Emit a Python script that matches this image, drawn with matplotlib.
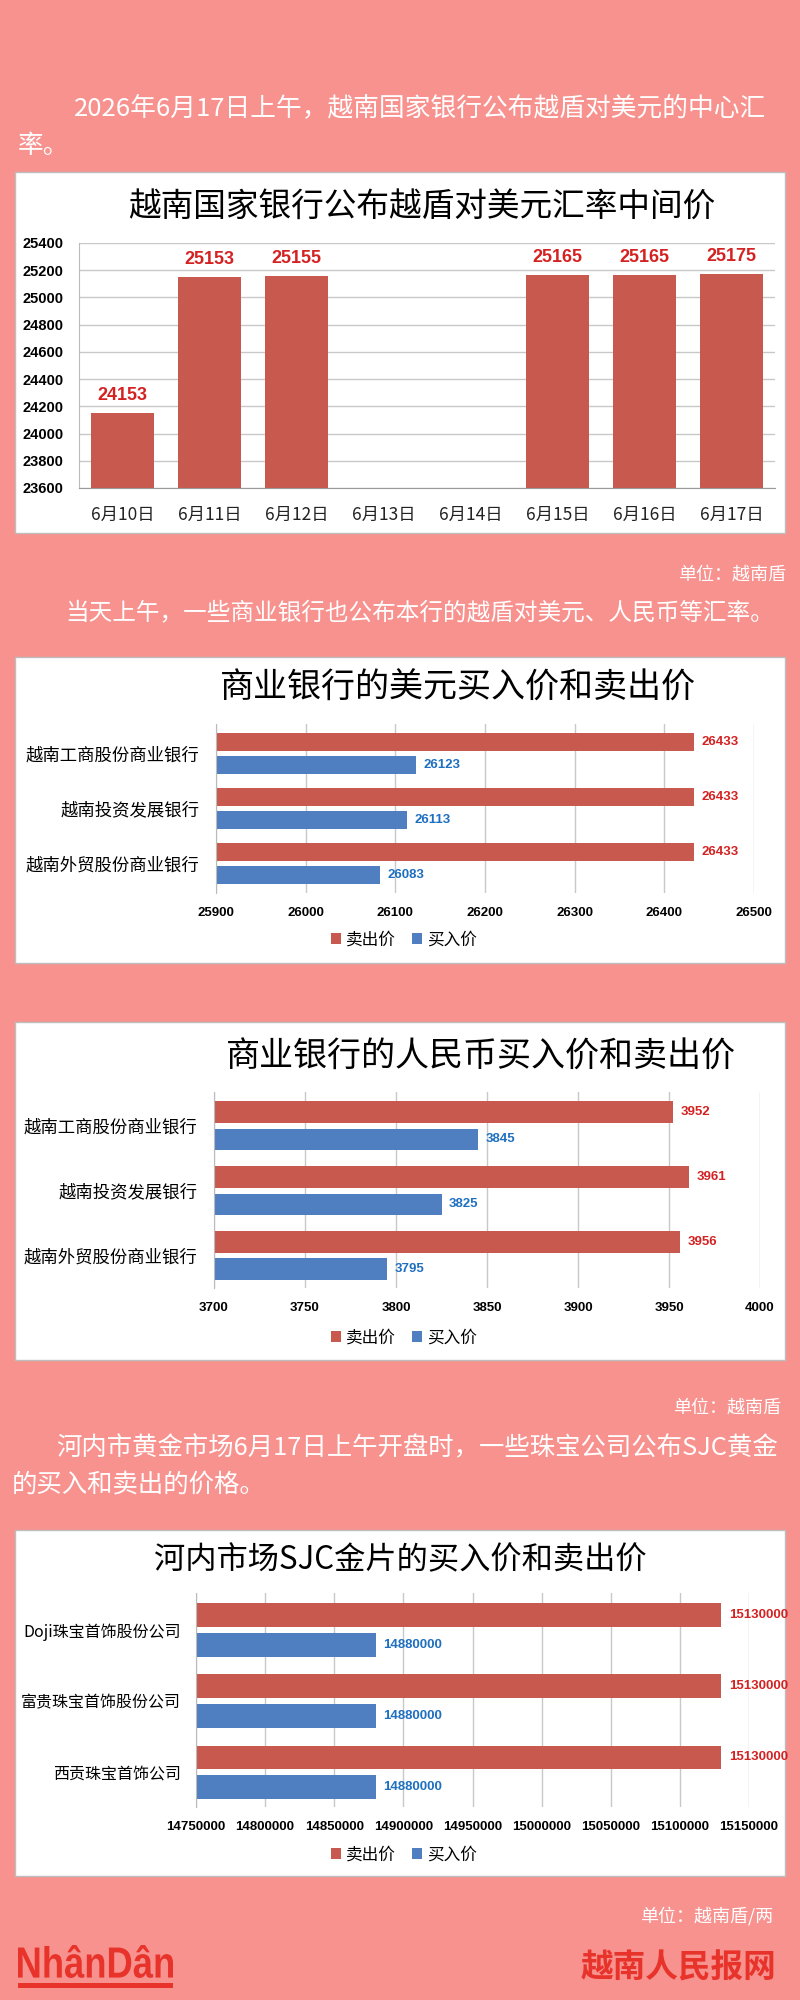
import matplotlib
matplotlib.use("Agg")
import matplotlib.pyplot as plt
from matplotlib.patches import Rectangle, PathPatch
from matplotlib.textpath import TextPath
from matplotlib.font_manager import FontProperties
from matplotlib.transforms import Affine2D

plt.rcParams['font.family'] = ['Noto Sans CJK SC', 'DejaVu Sans']

# ── data ─────────────────────────────────────────────────────────────
dates = ["6月10日", "6月11日", "6月12日", "6月13日", "6月14日", "6月15日", "6月16日", "6月17日"]
central_rate = [24153, 25153, 25155, None, None, 25165, 25165, 25175]

banks = ["越南工商股份商业银行", "越南投资发展银行", "越南外贸股份商业银行"]
usd_sell = [26433, 26433, 26433]
usd_buy = [26123, 26113, 26083]
cny_sell = [3952, 3961, 3956]
cny_buy = [3845, 3825, 3795]

gold_shops = ["Doji珠宝首饰股份公司", "富贵珠宝首饰股份公司", "西贡珠宝首饰公司"]
gold_sell = [15130000, 15130000, 15130000]
gold_buy = [14880000, 14880000, 14880000]

BG = "#F8928F"
RED = "#C8594F"
BLUE = "#4F7FC0"
RED_TXT = "#D42222"
BLUE_TXT = "#1F6FC0"
NUM_FONT = ['Liberation Sans', 'DejaVu Sans']

W, H = 800, 2000
fig = plt.figure(figsize=(8, 20), dpi=100, facecolor=BG)


def box(x0, y0, x1, y1):
    # pixel box (top-left origin) -> figure fraction
    return [x0 / W, 1 - y1 / H, (x1 - x0) / W, (y1 - y0) / H]


# background layer in pixel coordinates
bg = fig.add_axes([0, 0, 1, 1], zorder=-1)
bg.set_xlim(0, W)
bg.set_ylim(H, 0)
bg.axis("off")

for y0, y1 in [(172, 533), (657, 963), (1022, 1360), (1530, 1876)]:
    bg.add_patch(Rectangle((15, y0), 770, y1 - y0, facecolor="white",
                           edgecolor="#BDBDBD", lw=1))

# intro texts
bg.text(74, 108, "2026年6月17日上午，越南国家银行公布越盾对美元的中心汇",
        color="white", fontsize=18.5, va="center", ha="left")
bg.text(18, 146, "率。", color="white", fontsize=18.5, va="center")
bg.text(786, 575, "单位：越南盾", color="white", fontsize=13, ha="right", va="center")
bg.text(65, 613, "当天上午，一些商业银行也公布本行的越盾对美元、人民币等汇率。",
        color="white", fontsize=17, va="center")
bg.text(781, 1408, "单位：越南盾", color="white", fontsize=13, ha="right", va="center")
bg.text(56, 1448, "河内市黄金市场6月17日上午开盘时，一些珠宝公司公布SJC黄金",
        color="white", fontsize=18.3, va="center")
bg.text(12, 1485, "的买入和卖出的价格。", color="white", fontsize=18.3, va="center")
bg.text(773, 1916, "单位：越南盾/两", color="white", fontsize=13, ha="right", va="center")
bg.text(776, 1968, "越南人民报网", color="#E8332B", fontsize=23.5, fontweight="bold",
        ha="right", va="center")

# NhânDân logo (condensed via path scaling)
tp = TextPath((0, 0), "NhânDân", size=1,
              prop=FontProperties(family="Liberation Sans", weight="bold"))
ext = tp.get_extents()
sx = (173 - 18) / ext.width
sy = (1978 - 1945) / ext.height
tr = Affine2D().translate(-ext.x0, -ext.y0).scale(sx, -sy).translate(18, 1978)
bg.add_patch(PathPatch(tr.transform_path(tp), facecolor="#E8332B", edgecolor="none"))
bg.add_patch(Rectangle((18, 1983), 155, 4.5, facecolor="#E8332B", edgecolor="none"))

# chart titles
bg.text(422, 208, "越南国家银行公布越盾对美元汇率中间价", fontsize=23.5, ha="center", va="center")
bg.text(458, 688, "商业银行的美元买入价和卖出价", fontsize=24.5, ha="center", va="center")
bg.text(481, 1057, "商业银行的人民币买入价和卖出价", fontsize=24.5, ha="center", va="center")
bg.text(400, 1560, "河内市场SJC金片的买入价和卖出价", fontsize=22.5, ha="center", va="center")

# ── chart 1: central rate ────────────────────────────────────────────
ax = fig.add_axes(box(79, 243, 775, 488))
ax.set_facecolor("none")
xs = [i for i, v in enumerate(central_rate) if v is not None]
vals = [v for v in central_rate if v is not None]
ax.bar(xs, vals, width=0.72, color=RED, zorder=2)
for x, v in zip(xs, vals):
    ax.annotate(str(v), (x, v), xytext=(0, 12.5), textcoords="offset points",
                ha="center", va="center", color=RED_TXT, fontsize=13,
                fontweight="bold", family=NUM_FONT)
ax.set_ylim(23600, 25400)
ax.set_xlim(-0.5, len(dates) - 0.5)
ax.set_yticks(range(23600, 25401, 200))
ax.set_xticks(range(len(dates)))
ax.set_xticklabels(dates, fontsize=12.5, color="#222222")
ax.yaxis.grid(True, color="#C8C8C8", lw=1)
ax.set_axisbelow(True)
for s in ["top", "right"]:
    ax.spines[s].set_visible(False)
ax.spines["left"].set_color("#BBBBBB")
ax.spines["bottom"].set_color("#999999")
ax.tick_params(length=0)
ax.tick_params(axis="y", pad=11)
ax.tick_params(axis="x", pad=13)
for lab in ax.get_yticklabels():
    lab.set_fontweight("bold")
    lab.set_family(NUM_FONT)
    lab.set_fontsize(10.5)


# ── horizontal charts ────────────────────────────────────────────────
def hbar_chart(rect, labels, sell, buy, lo, hi, step, ylim, ypad, legend_y, label_size=12.5):
    ax = fig.add_axes(box(*rect))
    ax.set_facecolor("none")
    n = len(labels)
    ys = list(range(n))
    ax.barh([y - 0.21 for y in ys], [s - lo for s in sell], left=lo, height=0.33,
            color=RED, label="卖出价", zorder=2)
    ax.barh([y + 0.21 for y in ys], [b - lo for b in buy], left=lo, height=0.33,
            color=BLUE, label="买入价", zorder=2)
    for y, s, b in zip(ys, sell, buy):
        ax.annotate(str(s), (s, y - 0.21), xytext=(5.5, 0), textcoords="offset points",
                    va="center", ha="left", color=RED_TXT, fontsize=9.5,
                    fontweight="bold", family=NUM_FONT, annotation_clip=False)
        ax.annotate(str(b), (b, y + 0.21), xytext=(5.5, 0), textcoords="offset points",
                    va="center", ha="left", color=BLUE_TXT, fontsize=9.5,
                    fontweight="bold", family=NUM_FONT, annotation_clip=False)
    ax.set_xlim(lo, hi)
    ax.set_ylim(*ylim)
    ticks = list(range(lo, hi + 1, step))
    ax.set_xticks(ticks)
    ax.set_xticklabels([str(t) for t in ticks])
    ax.set_yticks(ys)
    ax.set_yticklabels(labels, fontsize=label_size)
    ax.xaxis.grid(True, color="#C8C8C8", lw=1)
    ax.set_axisbelow(True)
    for s in ["top", "right", "bottom"]:
        ax.spines[s].set_visible(False)
    ax.spines["left"].set_color("#BBBBBB")
    ax.tick_params(length=0)
    ax.tick_params(axis="y", pad=ypad)
    ax.tick_params(axis="x", pad=10)
    for lab in ax.get_xticklabels():
        lab.set_fontweight("bold")
        lab.set_family(NUM_FONT)
        lab.set_fontsize(9.5)
    fig.legend(loc="center", bbox_to_anchor=(404 / W, 1 - legend_y / H), ncol=2,
               frameon=False, fontsize=12, handlelength=0.6, handleheight=0.6,
               handletextpad=0.3, columnspacing=1.0,
               handles=ax.get_legend_handles_labels()[0][:2])
    return ax


hbar_chart((216, 724, 754, 893), banks, usd_sell, usd_buy, 25900, 26500, 100,
           (2.54, -0.53), 12, 940)
hbar_chart((214, 1092, 760, 1288), banks, cny_sell, cny_buy, 3700, 4000, 50,
           (2.50, -0.52), 12, 1338)
hbar_chart((196, 1593, 749, 1807), gold_shops, gold_sell, gold_buy, 14750000, 15150000, 50000,
           (2.49, -0.52), 11, 1855, label_size=11.5)

fig.savefig("out.png", dpi=100, facecolor=BG)
